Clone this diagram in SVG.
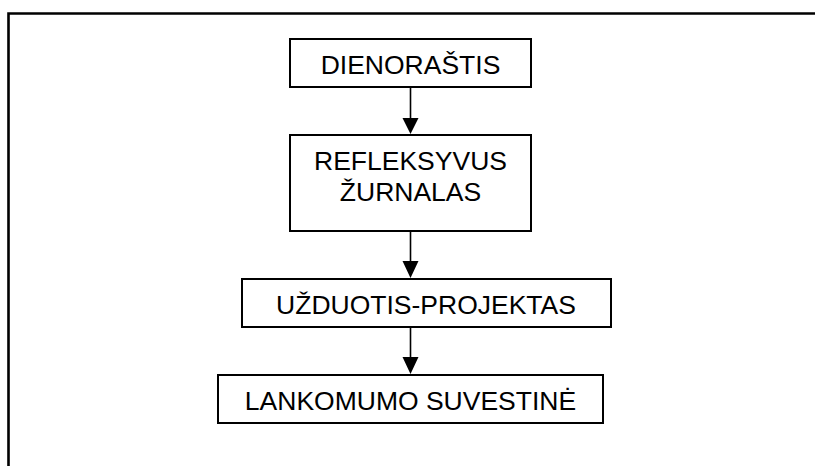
<svg xmlns="http://www.w3.org/2000/svg" width="815" height="466" viewBox="0 0 815 466">
  <style>
    .box { fill: #fff; stroke: #000; stroke-width: 2; }
    .lbl { font-family: "Liberation Sans", Arial, sans-serif; font-size: 26.5px; fill: #000; text-anchor: middle; }
    .conn { stroke: #000; stroke-width: 1.6; fill: none; }
    .head { fill: #000; }
  </style>
  <rect width="815" height="466" fill="#fff"/>
  <path d="M8.5 470 V13.5 H820" fill="none" stroke="#000" stroke-width="2.6"/>
  <g id="connectors">
    <line class="conn" x1="410.5" y1="87" x2="410.5" y2="120"/>
    <polygon class="head" points="402.5,118 418.5,118 410.5,134"/>
    <line class="conn" x1="410.5" y1="231" x2="410.5" y2="263"/>
    <polygon class="head" points="402.5,261 418.5,261 410.5,278"/>
    <line class="conn" x1="410.5" y1="327" x2="410.5" y2="359"/>
    <polygon class="head" points="402.5,357 418.5,357 410.5,374"/>
  </g>
  <g id="n1">
    <rect class="box" x="290" y="39" width="241" height="48"/>
    <text class="lbl" x="410.5" y="74">DIENORAŠTIS</text>
  </g>
  <g id="n2">
    <rect class="box" x="290" y="135" width="241" height="96"/>
    <text class="lbl" x="410.5" y="170">REFLEKSYVUS</text>
    <text class="lbl" x="410.5" y="201">ŽURNALAS</text>
  </g>
  <g id="n3">
    <rect class="box" x="242" y="279" width="369" height="48"/>
    <text class="lbl" x="426" y="314">UŽDUOTIS-PROJEKTAS</text>
  </g>
  <g id="n4">
    <rect class="box" x="218" y="375" width="385" height="48"/>
    <text class="lbl" x="410.5" y="410">LANKOMUMO SUVESTINĖ</text>
  </g>
</svg>
